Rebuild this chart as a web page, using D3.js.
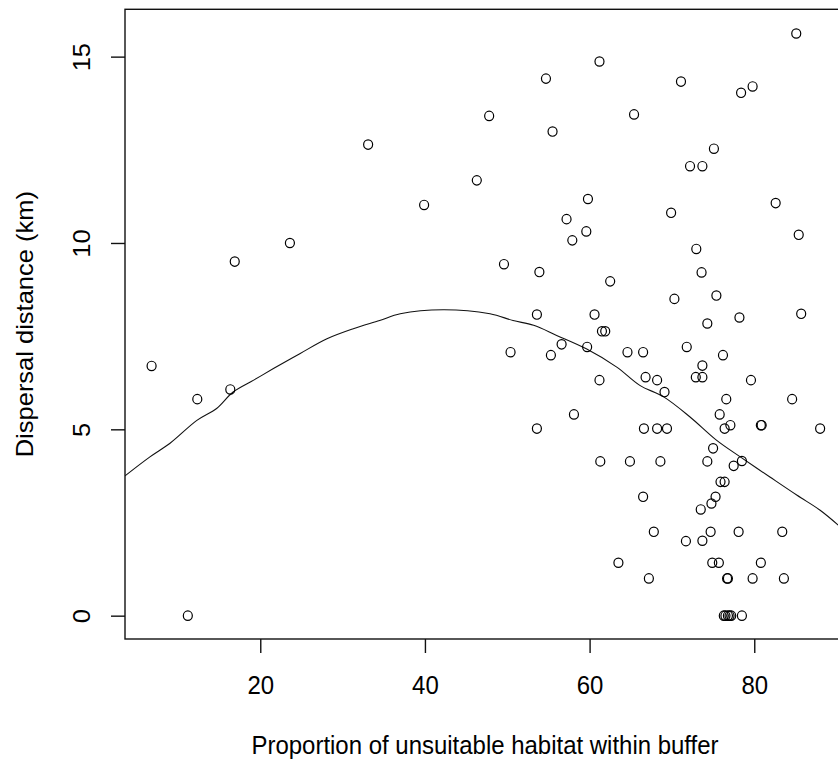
<!DOCTYPE html>
<html>
<head>
<meta charset="utf-8">
<script src="https://cdn.jsdelivr.net/npm/d3@7"></script>
<style>
  html, body { margin: 0; padding: 0; background: #fff; }
  svg { display: block; }
  text { font-family: "Liberation Sans", Arial, sans-serif; fill: #000; }
</style>
</head>
<body>
<svg id="chart" width="838" height="763"></svg>
<script>
// Proportion of unsuitable habitat within buffer (%) for each dispersal record
const habitat = [
  6.8, 12.35, 16.36, 11.2, 16.9, 23.6, 33.1,
  61.2, 54.7, 47.8, 65.4, 55.5, 46.3, 39.9, 59.8, 57.2, 59.6, 57.9, 49.6, 53.9, 62.5, 53.6, 60.6,
  85.1, 71.1, 79.8, 78.4, 75.1, 72.2, 73.7, 82.6, 69.9, 85.4, 72.96, 73.6, 70.3, 75.4, 74.3, 78.2, 85.7,
  61.5, 61.9, 50.4, 55.3, 56.6, 59.7, 64.6, 66.5, 61.2, 66.8, 58.1, 53.6, 66.6, 61.3, 64.9, 66.5, 63.5, 67.2, 67.8,
  71.8, 76.2, 73.7, 72.9, 73.7, 68.2, 79.6, 69.1, 76.6, 84.6, 75.8, 77.1, 76.4, 80.8, 80.9, 88.0, 68.2, 69.4,
  75.0, 68.6, 74.3, 77.5, 78.5, 75.9, 76.4, 75.3, 74.8, 73.5, 74.7, 78.1, 83.4, 71.7, 73.7, 74.9, 75.7, 80.8,
  76.7, 76.8, 79.8, 83.6, 76.3, 76.5, 76.8, 77.0, 77.2, 78.5
];
// Dispersal distance (km) for the same records
const distance = [
  6.70, 5.81, 6.07, 0, 9.50, 10.00, 12.64,
  14.87, 14.41, 13.41, 13.45, 12.99, 11.68, 11.02, 11.18, 10.64, 10.31, 10.07, 9.43, 9.22, 8.97, 8.08, 8.08,
  15.62, 14.33, 14.20, 14.03, 12.53, 12.06, 12.06, 11.07, 10.81, 10.22, 9.84, 9.21, 8.50, 8.59, 7.84, 8.00, 8.10,
  7.63, 7.63, 7.07, 6.99, 7.28, 7.21, 7.07, 7.07, 6.32, 6.40, 5.40, 5.02, 5.02, 4.14, 4.14, 3.19, 1.42, 1.00, 2.25,
  7.21, 6.99, 6.71, 6.40, 6.40, 6.32, 6.32, 6.00, 5.81, 5.81, 5.40, 5.11, 5.02, 5.11, 5.11, 5.02, 5.02, 5.02,
  4.49, 4.14, 4.14, 4.02, 4.15, 3.59, 3.59, 3.19, 3.01, 2.85, 2.25, 2.25, 2.25, 2.00, 2.01, 1.42, 1.42, 1.42,
  1.00, 1.00, 1.00, 1.00, 0, 0, 0, 0, 0, 0
];
// Fitted smooth curve
const fitX = [3.57, 6.6, 9.0, 12.3, 14.7, 16.7, 19.2, 21.6, 24.8, 28.1, 31.3, 34.5, 37.0, 42.2, 47.9, 50.7, 53.2, 56.0, 59.6, 63.3, 66.1, 69.0, 72.2, 75.4, 78.3, 81.9, 85.2, 88.0, 90.2];
const fitY = [3.75, 4.26, 4.62, 5.24, 5.56, 6.00, 6.32, 6.63, 7.03, 7.43, 7.70, 7.92, 8.10, 8.21, 8.10, 7.92, 7.79, 7.52, 7.16, 6.67, 6.18, 5.87, 5.33, 4.71, 4.26, 3.72, 3.23, 2.83, 2.43];

const xTicks = [20, 40, 60, 80];
const yTicks = [0, 5, 10, 15];
const xDomain = [3.57, 90.9];
const yDomain = [-0.626, 16.27];

const xLabel = "Proportion of unsuitable habitat within buffer";
const yLabel = "Dispersal distance (km)";

const svg = d3.select("#chart");
const plot = { left: 125, right: 844, top: 9.3, bottom: 639 };

const x = d3.scaleLinear().domain(xDomain).range([plot.left, plot.right]);
const y = d3.scaleLinear().domain(yDomain).range([plot.bottom, plot.top]);

const fontSize = 25.5;
// text is slightly narrower horizontally than vertically
const hSqueeze = 0.94;

svg.append("defs").append("clipPath").attr("id", "plotClip")
  .append("rect")
  .attr("x", plot.left).attr("y", plot.top)
  .attr("width", plot.right - plot.left).attr("height", plot.bottom - plot.top);

// Plot frame
svg.append("rect")
  .attr("x", plot.left).attr("y", plot.top)
  .attr("width", plot.right - plot.left).attr("height", plot.bottom - plot.top)
  .attr("fill", "none").attr("stroke", "#111").attr("stroke-width", 1.4);

// X axis
const xAxis = d3.axisBottom(x).tickValues(xTicks).tickSize(14).tickSizeOuter(0).tickFormat(d3.format("d"));
const gx = svg.append("g").attr("transform", `translate(0,${plot.bottom})`).call(xAxis);
gx.select(".domain").remove();
gx.selectAll(".tick line").attr("stroke", "#111").attr("stroke-width", 1.4);
gx.selectAll(".tick text")
  .attr("y", 0).attr("dy", null)
  .attr("transform", `translate(0,55) scale(${hSqueeze},1)`)
  .style("font-size", fontSize + "px")
  .attr("font-family", null);

// Y axis with labels parallel to the axis
const yAxis = d3.axisLeft(y).tickValues(yTicks).tickSize(14).tickSizeOuter(0).tickFormat(d3.format("d"));
const gy = svg.append("g").attr("transform", `translate(${plot.left},0)`).call(yAxis);
gy.select(".domain").remove();
gy.selectAll(".tick line").attr("stroke", "#111").attr("stroke-width", 1.4);
gy.selectAll(".tick text")
  .attr("x", 0).attr("dy", null)
  .attr("text-anchor", "middle")
  .attr("transform", `translate(-35,0) rotate(-90) scale(1,${hSqueeze})`)
  .style("font-size", fontSize + "px")
  .attr("font-family", null);

// Axis titles
svg.append("text")
  .attr("text-anchor", "middle")
  .attr("transform", `translate(485,754) scale(${hSqueeze},1)`)
  .style("font-size", fontSize + "px")
  .text(xLabel);

svg.append("text")
  .attr("text-anchor", "middle")
  .attr("transform", `translate(33,${(plot.top + plot.bottom) / 2}) rotate(-90) scale(1,${hSqueeze})`)
  .style("font-size", fontSize + "px")
  .text(yLabel);

// Fitted curve
const line = d3.line().x((d, i) => x(fitX[i])).y((d, i) => y(fitY[i])).curve(d3.curveCatmullRom);
svg.append("path")
  .datum(fitX)
  .attr("clip-path", "url(#plotClip)")
  .attr("d", line)
  .attr("fill", "none")
  .attr("stroke", "#111")
  .attr("stroke-width", 1.1);

// Observations as open circles
svg.append("g")
  .attr("clip-path", "url(#plotClip)")
  .selectAll("ellipse")
  .data(habitat)
  .join("ellipse")
  .attr("cx", d => x(d))
  .attr("cy", (d, i) => y(distance[i]))
  .attr("rx", 4.5)
  .attr("ry", 4.7)
  .attr("fill", "none")
  .attr("stroke", "#000")
  .attr("stroke-width", 1.2);
</script>
</body>
</html>
